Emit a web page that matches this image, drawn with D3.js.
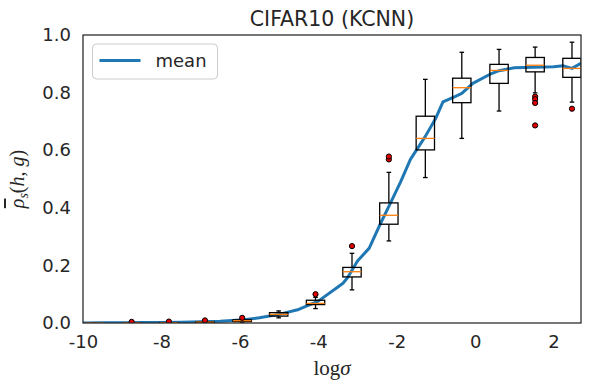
<!DOCTYPE html>
<html>
<head>
<meta charset="utf-8">
<script src="https://cdn.jsdelivr.net/npm/d3@7"></script>
<style>
  body { margin: 0; background: #fff; }
  text { font-family: "DejaVu Sans", sans-serif; fill: #262626; }
</style>
</head>
<body>
<div id="chart"></div>
<script>
// Mean curve (log sigma, rho)
const meanX = [-10, -9.5, -9, -8.5, -8, -7.5, -7, -6.5, -6, -5.5, -5, -4.5, -4, -3.5, -3.37, -3.25, -3, -2.7, -2.45, -2.2, -1.9, -1.65, -1.27, -1.0, -0.82, -0.5, -0.34, -0.06, 0.37, 0.61, 1.0, 1.5, 2.0, 2.25, 2.47, 2.7];
const meanY = [0, 0.0005, 0.001, 0.0015, 0.002, 0.003, 0.004, 0.006, 0.010, 0.018, 0.030, 0.047, 0.076, 0.125, 0.138, 0.158, 0.215, 0.260, 0.335, 0.405, 0.490, 0.568, 0.648, 0.712, 0.768, 0.787, 0.797, 0.832, 0.863, 0.876, 0.886, 0.888, 0.890, 0.893, 0.884, 0.902];

// Box plot summaries
const boxPos = [-9.70, -8.76, -7.81, -6.89, -5.94, -5.01, -4.07, -3.14, -2.20, -1.27, -0.34, 0.61, 1.53, 2.47];
const boxLo  = [0, 0, 0, 0.001, 0.003, 0.018, 0.050, 0.115, 0.285, 0.505, 0.641, 0.736, 0.799, 0.767];
const boxQ1  = [0, 0, 0.0005, 0.002, 0.005, 0.024, 0.064, 0.160, 0.343, 0.601, 0.765, 0.832, 0.872, 0.853];
const boxMed = [0, 0.0005, 0.001, 0.003, 0.008, 0.030, 0.068, 0.178, 0.374, 0.641, 0.817, 0.877, 0.895, 0.884];
const boxQ3  = [0, 0.001, 0.0015, 0.004, 0.011, 0.036, 0.079, 0.193, 0.417, 0.718, 0.850, 0.898, 0.922, 0.919];
const boxHi  = [0.001, 0.002, 0.003, 0.006, 0.014, 0.042, 0.089, 0.242, 0.523, 0.846, 0.940, 0.950, 0.958, 0.975];
const boxOut = [[], [0.004], [0.005], [0.009], [0.018], [], [0.10], [0.267], [0.568, 0.578], [], [], [], [0.786, 0.777, 0.764, 0.686], [0.744]];

const xTicks = [-10, -8, -6, -4, -2, 0, 2];
const yTicks = [0, 0.2, 0.4, 0.6, 0.8, 1.0];

const W = 589, H = 390;
const margin = {top: 35, right: 8, bottom: 67, left: 83};
const width = W - margin.left - margin.right,
      height = H - margin.top - margin.bottom;

const svg = d3.select("#chart").append("svg")
    .attr("width", W).attr("height", H);

const g = svg.append("g")
    .attr("transform", `translate(${margin.left},${margin.top})`);

const x = d3.scaleLinear().domain([-10, 2.7]).range([0, width]);
const y = d3.scaleLinear().domain([0, 1]).range([height, 0]);

svg.append("defs").append("clipPath").attr("id", "clip")
  .append("rect").attr("width", width).attr("height", height);

// Title
svg.append("text")
    .attr("x", margin.left + width / 2)
    .attr("y", 26)
    .attr("text-anchor", "middle")
    .style("font-size", "20.5px")
    .text("CIFAR10 (KCNN)");

// Axes (no tick marks, seaborn white style)
const xAxis = g.append("g")
    .attr("transform", `translate(0,${height})`)
    .call(d3.axisBottom(x).tickValues(xTicks).tickSize(0).tickPadding(12)
        .tickFormat(d => String(d)));
const yAxis = g.append("g")
    .call(d3.axisLeft(y).tickValues(yTicks).tickSize(0).tickPadding(12)
        .tickFormat(d3.format(".1f")));
[xAxis, yAxis].forEach(a => {
  a.select(".domain").remove();
  a.selectAll("text").style("font-size", "18px").style("font-family", "DejaVu Sans, sans-serif").attr("fill", "#262626");
});

const plot = g.append("g").attr("clip-path", "url(#clip)");

// Mean line
const line = d3.line()
    .x((d, i) => x(meanX[i]))
    .y(d => y(d));
plot.append("path")
    .datum(meanY)
    .attr("fill", "none")
    .attr("stroke", "#1f77b4")
    .attr("stroke-width", 3)
    .attr("stroke-linejoin", "round")
    .attr("d", line);

// Boxes
const boxW = x(boxPos[0] + 0.234) - x(boxPos[0]);
const capW = boxW / 2;
boxPos.forEach((p, i) => {
  const cx = x(p);
  const b = plot.append("g");
  b.append("line").attr("x1", cx).attr("x2", cx)
      .attr("y1", y(boxLo[i])).attr("y2", y(boxQ1[i]));
  b.append("line").attr("x1", cx).attr("x2", cx)
      .attr("y1", y(boxQ3[i])).attr("y2", y(boxHi[i]));
  b.append("line").attr("x1", cx - capW / 2).attr("x2", cx + capW / 2)
      .attr("y1", y(boxLo[i])).attr("y2", y(boxLo[i]));
  b.append("line").attr("x1", cx - capW / 2).attr("x2", cx + capW / 2)
      .attr("y1", y(boxHi[i])).attr("y2", y(boxHi[i]));
  b.append("rect")
      .attr("x", cx - boxW).attr("width", boxW * 2)
      .attr("y", y(boxQ3[i])).attr("height", y(boxQ1[i]) - y(boxQ3[i]))
      .attr("fill", "none");
  b.selectAll("line, rect").attr("stroke", "#000").attr("stroke-width", 1.3);
  b.append("line").attr("x1", cx - boxW).attr("x2", cx + boxW)
      .attr("y1", y(boxMed[i])).attr("y2", y(boxMed[i]))
      .attr("stroke", "#ff7f0e").attr("stroke-width", 1.3);
  boxOut[i].forEach(v => {
    b.append("circle").attr("cx", cx).attr("cy", y(v)).attr("r", 2.6)
        .attr("fill", "#e00000").attr("stroke", "#000").attr("stroke-width", 1);
  });
});

// Frame
g.append("rect")
    .attr("width", width).attr("height", height)
    .attr("fill", "none").attr("stroke", "#262626").attr("stroke-width", 1.25);

// Legend
const lg = g.append("g").attr("transform", "translate(9.5,9)");
lg.append("rect").attr("width", 125).attr("height", 35).attr("rx", 4)
    .attr("fill", "#fff").attr("fill-opacity", 0.8)
    .attr("stroke", "#cccccc").attr("stroke-width", 1);
lg.append("line").attr("x1", 7).attr("x2", 48).attr("y1", 16.5).attr("y2", 16.5)
    .attr("stroke", "#1f77b4").attr("stroke-width", 3);
lg.append("text").attr("x", 63).attr("y", 23).style("font-size", "18px").text("mean");

// X label
const xl = svg.append("text")
    .attr("x", margin.left + width / 2)
    .attr("y", 375)
    .attr("text-anchor", "middle")
    .style("font-family", "'Liberation Serif', serif")
    .style("font-size", "21px");
xl.append("tspan").text("log");
xl.append("tspan").style("font-style", "italic").text("σ");

// Y label
const yl = svg.append("text")
    .attr("transform", `translate(24,${margin.top + height / 2}) rotate(-90)`)
    .attr("text-anchor", "middle")
    .style("font-family", "'Liberation Serif', serif")
    .style("font-size", "20px");
yl.append("tspan").style("font-style", "italic").style("text-decoration", "overline").text("ρ");
yl.append("tspan").style("font-style", "italic").style("font-size", "14px").attr("dy", 4).text("s");
yl.append("tspan").attr("dy", -4).text("(");
yl.append("tspan").style("font-style", "italic").text("h");
yl.append("tspan").text(", ");
yl.append("tspan").style("font-style", "italic").text("g");
yl.append("tspan").text(")");
</script>
</body>
</html>
